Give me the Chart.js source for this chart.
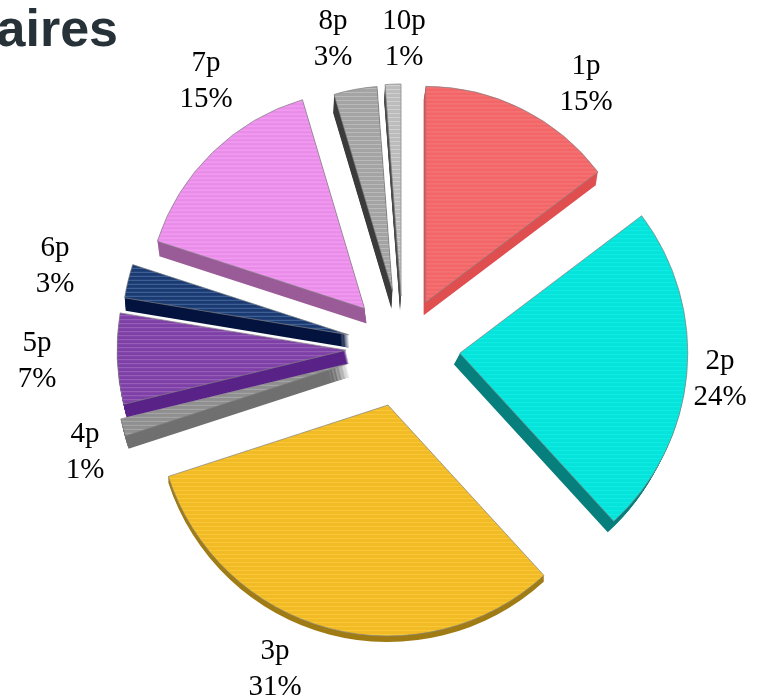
<!DOCTYPE html>
<html>
<head>
<meta charset="utf-8">
<style>
  html, body { margin: 0; padding: 0; background: #fff; }
  #wrap { width: 772px; height: 699px; }
</style>
<script src="https://cdn.jsdelivr.net/npm/chart.js@4"></script>
</head>
<body>
<div id="wrap"><canvas id="pie" width="772" height="699"></canvas></div>
<script>
const categories = ['1p', '2p', '3p', '4p', '5p', '6p', '7p', '8p', '10p'];
// printed on the labels
const shares = [15, 24, 31, 1, 7, 3, 15, 3, 1];
// the tilted pie stretches them a bit
const sliceValues = [14.7, 23.5, 31.8, 1.2, 6.4, 2.4, 15.4, 3.4, 1.2];

// look of each slice
const faceColors = ['#f26668', '#05e3da', '#f2bb24', '#8f8f8f', '#7e3fa6', '#1c3a72', '#ea8cea', '#a4a4a4', '#bcbcbc'];
const stripeColors = ['#f87a7c', '#12ece4', '#f8c93e', '#a8a8a8', '#9a66bc', '#44689e', '#f4a4f4', '#bababa', '#d2d2d2'];
const sideColors = ['#e04f50', '#077f7c', '#a07c14', '#707070', '#5a2388', '#04143f', '#9a5c98', '#3c3c3c', '#4c4c4c'];
const explode = [51, 57, 59, 58, 57, 56, 55, 58, 52];
const radii = [216, 228, 231, 233, 229, 227, 218, 205, 212];
const depths = [13, 11, 6, 13, 13, 13, 15, 18, 15];
const leans = [-2, -6, 0, 3, 3, 1, 2, -1, -1];
const drawOrder = [8, 7, 6, 0, 5, 3, 4, 1, 2];

// where each label sits: centre x, first baseline
const labelSpots = [[586, 74], [720, 369], [275, 659], [85, 442], [37, 351], [55, 256], [206, 71], [333, 29], [404, 29]];

function stripes(base, light) {
  const c = document.createElement('canvas');
  c.width = 4;
  c.height = 4;
  const g = c.getContext('2d');
  g.fillStyle = base;
  g.fillRect(0, 0, 4, 4);
  g.fillStyle = light;
  g.fillRect(0, 1, 4, 1);
  return g.createPattern(c, 'repeat');
}

const slabPlugin = {
  id: 'slab',
  afterDatasetsUpdate(chart) {
    chart.getDatasetMeta(0).data.forEach((arc, i) => { arc.outerRadius = radii[i]; });
  },
  beforeDatasetDraw(chart) {
    const ctx = chart.ctx;
    const arcs = chart.getDatasetMeta(0).data;
    drawOrder.forEach(i => {
      const arc = arcs[i];
      const opts = arc.options;
      const mid = (arc.startAngle + arc.endAngle) / 2;
      ctx.save();
      // pull the slice out along its middle
      ctx.translate(Math.cos(mid) * explode[i], Math.sin(mid) * explode[i]);
      arc.options = Object.assign({}, opts, {backgroundColor: sideColors[i], borderWidth: 0});
      for (let t = depths[i]; t >= 1; t--) {
        ctx.save();
        ctx.translate(leans[i] * t / depths[i], t);
        arc.draw(ctx);
        ctx.restore();
      }
      arc.options = opts;
      arc.draw(ctx);
      ctx.restore();
    });
    return false;
  },
  afterDraw(chart) {
    const ctx = chart.ctx;
    ctx.save();
    ctx.fillStyle = '#000';
    ctx.textAlign = 'center';
    ctx.textBaseline = 'alphabetic';
    ctx.font = '29px "Liberation Serif"';
    categories.forEach((name, i) => {
      const [x, y] = labelSpots[i];
      ctx.fillText(name, x, y);
      ctx.fillText(shares[i] + '%', x, y + 36);
    });
    ctx.fillStyle = '#263238';
    ctx.textAlign = 'right';
    ctx.font = 'bold 52px "Liberation Sans"';
    ctx.fillText('aires', 118, 46);
    ctx.restore();
  }
};

new Chart(document.getElementById('pie'), {
  type: 'pie',
  data: {
    labels: categories,
    datasets: [{
      data: sliceValues,
      backgroundColor: faceColors.map((c, i) => stripes(c, stripeColors[i])),
      borderColor: 'rgba(130,130,130,0.7)',
      borderWidth: 1
    }]
  },
  options: {
    responsive: false,
    animation: false,
    layout: { padding: { left: 34, right: 0, top: 0, bottom: 3 } },
    plugins: { legend: { display: false }, tooltip: { enabled: false } }
  },
  plugins: [slabPlugin]
});
</script>
</body>
</html>
